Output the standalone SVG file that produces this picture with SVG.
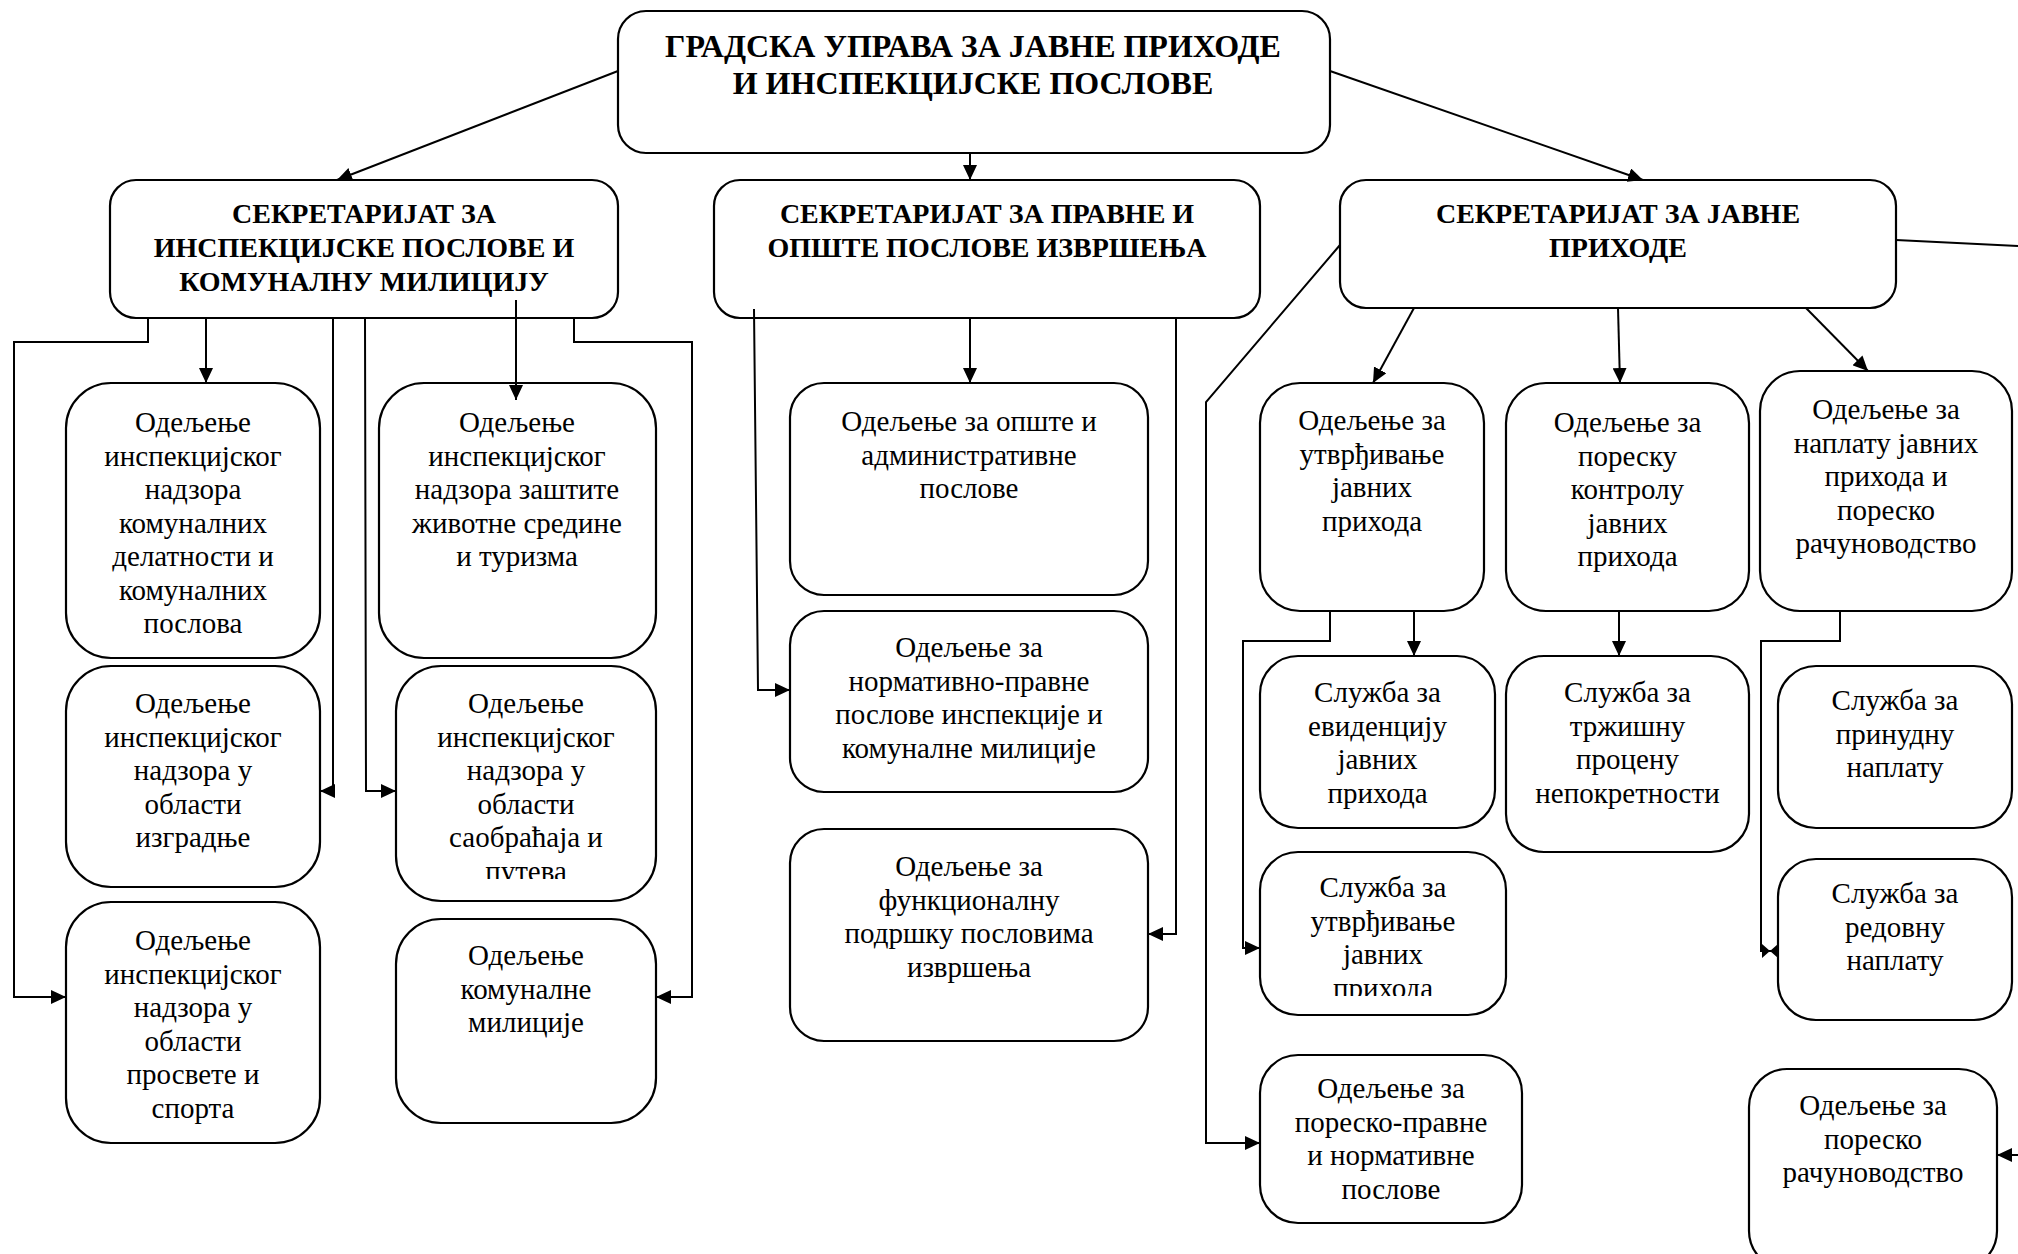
<svg xmlns="http://www.w3.org/2000/svg" width="2018" height="1254" viewBox="0 0 2018 1254">
<style>
.box{fill:#fff;stroke:#000;stroke-width:2.2}
.c{fill:none;stroke:#000;stroke-width:2}
.h{font-family:"Liberation Serif","Times New Roman",serif;font-weight:bold;text-anchor:middle;fill:#000}
.t{font-family:"Liberation Serif","Times New Roman",serif;font-size:29px;text-anchor:middle;fill:#000}
</style>
<defs>
<marker id="ah" viewBox="0 0 15 14" refX="15" refY="7" markerWidth="15" markerHeight="14" markerUnits="userSpaceOnUse" orient="auto">
<path d="M0,0 L15,7 L0,14 z" fill="#000"/>
</marker>
<clipPath id="clipPut"><rect x="396" y="660" width="262" height="219"/></clipPath>
<clipPath id="clipPrih"><rect x="1260" y="850" width="248" height="146"/></clipPath>
</defs>
<rect width="2018" height="1254" fill="#fff"/>

<g id="n-title">
<rect class="box" x="618" y="11" width="712" height="142" rx="28"/>
<text class="h" font-size="32" x="973" y="57">ГРАДСКА УПРАВА ЗА ЈАВНЕ ПРИХОДЕ</text>
<text class="h" font-size="32" x="973" y="94">И ИНСПЕКЦИЈСКЕ ПОСЛОВЕ</text>
</g>

<g id="n-sec-insp">
<rect class="box" x="110" y="180" width="508" height="138" rx="26"/>
<text class="h" font-size="28" x="364" y="223">СЕКРЕТАРИЈАТ ЗА</text>
<text class="h" font-size="28" x="364" y="257">ИНСПЕКЦИЈСКЕ ПОСЛОВЕ И</text>
<text class="h" font-size="28" x="364" y="291">КОМУНАЛНУ МИЛИЦИЈУ</text>
</g>

<g id="n-sec-prav">
<rect class="box" x="714" y="180" width="546" height="138" rx="26"/>
<text class="h" font-size="28" x="987" y="223">СЕКРЕТАРИЈАТ ЗА ПРАВНЕ И</text>
<text class="h" font-size="28" x="987" y="257">ОПШТЕ ПОСЛОВЕ ИЗВРШЕЊА</text>
</g>

<g id="n-sec-prih">
<rect class="box" x="1340" y="180" width="556" height="128" rx="26"/>
<text class="h" font-size="28" x="1618" y="223">СЕКРЕТАРИЈАТ ЗА ЈАВНЕ</text>
<text class="h" font-size="28" x="1618" y="257">ПРИХОДЕ</text>
</g>

<g id="n-kom-del">
<rect class="box" x="66" y="383" width="254" height="275" rx="45"/>
<text class="t" x="193" y="432">Одељење</text>
<text class="t" x="193" y="465.5">инспекцијског</text>
<text class="t" x="193" y="499">надзора</text>
<text class="t" x="193" y="532.5">комуналних</text>
<text class="t" x="193" y="566">делатности и</text>
<text class="t" x="193" y="599.5">комуналних</text>
<text class="t" x="193" y="633">послова</text>
</g>

<g id="n-izgradnja">
<rect class="box" x="66" y="666" width="254" height="221" rx="45"/>
<text class="t" x="193" y="713">Одељење</text>
<text class="t" x="193" y="746.5">инспекцијског</text>
<text class="t" x="193" y="780">надзора у</text>
<text class="t" x="193" y="813.5">области</text>
<text class="t" x="193" y="847">изградње</text>
</g>

<g id="n-prosveta">
<rect class="box" x="66" y="902" width="254" height="241" rx="45"/>
<text class="t" x="193" y="950">Одељење</text>
<text class="t" x="193" y="983.5">инспекцијског</text>
<text class="t" x="193" y="1017">надзора у</text>
<text class="t" x="193" y="1050.5">области</text>
<text class="t" x="193" y="1084">просвете и</text>
<text class="t" x="193" y="1117.5">спорта</text>
</g>

<g id="n-zivotna">
<rect class="box" x="379" y="383" width="277" height="275" rx="45"/>
<text class="t" x="517" y="432">Одељење</text>
<text class="t" x="517" y="465.5">инспекцијског</text>
<text class="t" x="517" y="499">надзора заштите</text>
<text class="t" x="517" y="532.5">животне средине</text>
<text class="t" x="517" y="566">и туризма</text>
</g>

<g id="n-saobracaj">
<rect class="box" x="396" y="666" width="260" height="235" rx="45"/>
<text class="t" x="526" y="713">Одељење</text>
<text class="t" x="526" y="746.5">инспекцијског</text>
<text class="t" x="526" y="780">надзора у</text>
<text class="t" x="526" y="813.5">области</text>
<text class="t" x="526" y="847">саобраћаја и</text>
<text class="t" x="526" y="880.5" clip-path="url(#clipPut)">путева</text>
</g>

<g id="n-milicija">
<rect class="box" x="396" y="919" width="260" height="204" rx="45"/>
<text class="t" x="526" y="965">Одељење</text>
<text class="t" x="526" y="998.5">комуналне</text>
<text class="t" x="526" y="1032">милиције</text>
</g>

<g id="n-opste">
<rect class="box" x="790" y="383" width="358" height="212" rx="34"/>
<text class="t" x="969" y="431">Одељење за опште и</text>
<text class="t" x="969" y="464.5">административне</text>
<text class="t" x="969" y="498">послове</text>
</g>

<g id="n-normativno">
<rect class="box" x="790" y="611" width="358" height="181" rx="34"/>
<text class="t" x="969" y="657">Одељење за</text>
<text class="t" x="969" y="690.5">нормативно-правне</text>
<text class="t" x="969" y="724">послове инспекције и</text>
<text class="t" x="969" y="757.5">комуналне милиције</text>
</g>

<g id="n-funkcionalna">
<rect class="box" x="790" y="829" width="358" height="212" rx="34"/>
<text class="t" x="969" y="876">Одељење за</text>
<text class="t" x="969" y="909.5">функционалну</text>
<text class="t" x="969" y="943">подршку пословима</text>
<text class="t" x="969" y="976.5">извршења</text>
</g>

<g id="n-utvrdjivanje">
<rect class="box" x="1260" y="383" width="224" height="228" rx="40"/>
<text class="t" x="1372" y="430">Одељење за</text>
<text class="t" x="1372" y="463.5">утврђивање</text>
<text class="t" x="1372" y="497">јавних</text>
<text class="t" x="1372" y="530.5">прихода</text>
</g>

<g id="n-kontrola">
<rect class="box" x="1506" y="383" width="243" height="228" rx="40"/>
<text class="t" x="1627.5" y="432">Одељење за</text>
<text class="t" x="1627.5" y="465.5">пореску</text>
<text class="t" x="1627.5" y="499">контролу</text>
<text class="t" x="1627.5" y="532.5">јавних</text>
<text class="t" x="1627.5" y="566">прихода</text>
</g>

<g id="n-naplata">
<rect class="box" x="1760" y="371" width="252" height="240" rx="40"/>
<text class="t" x="1886" y="419">Одељење за</text>
<text class="t" x="1886" y="452.5">наплату јавних</text>
<text class="t" x="1886" y="486">прихода и</text>
<text class="t" x="1886" y="519.5">пореско</text>
<text class="t" x="1886" y="553">рачуноводство</text>
</g>

<g id="n-evidencija">
<rect class="box" x="1260" y="656" width="235" height="172" rx="38"/>
<text class="t" x="1377.5" y="702">Служба за</text>
<text class="t" x="1377.5" y="735.5">евиденцију</text>
<text class="t" x="1377.5" y="769">јавних</text>
<text class="t" x="1377.5" y="802.5">прихода</text>
</g>

<g id="n-trzisna">
<rect class="box" x="1506" y="656" width="243" height="196" rx="38"/>
<text class="t" x="1627.5" y="702">Служба за</text>
<text class="t" x="1627.5" y="735.5">тржишну</text>
<text class="t" x="1627.5" y="769">процену</text>
<text class="t" x="1627.5" y="802.5">непокретности</text>
</g>

<g id="n-prinudna">
<rect class="box" x="1778" y="666" width="234" height="162" rx="38"/>
<text class="t" x="1895" y="710">Служба за</text>
<text class="t" x="1895" y="743.5">принудну</text>
<text class="t" x="1895" y="777">наплату</text>
</g>

<g id="n-sl-utvrdjivanje">
<rect class="box" x="1260" y="852" width="246" height="163" rx="38"/>
<text class="t" x="1383" y="897">Служба за</text>
<text class="t" x="1383" y="930.5">утврђивање</text>
<text class="t" x="1383" y="964">јавних</text>
<text class="t" x="1383" y="997.5" clip-path="url(#clipPrih)">прихода</text>
</g>

<g id="n-redovna">
<rect class="box" x="1778" y="859" width="234" height="161" rx="38"/>
<text class="t" x="1895" y="903">Служба за</text>
<text class="t" x="1895" y="936.5">редовну</text>
<text class="t" x="1895" y="970">наплату</text>
</g>

<g id="n-poresko-pravne">
<rect class="box" x="1260" y="1055" width="262" height="168" rx="38"/>
<text class="t" x="1391" y="1098">Одељење за</text>
<text class="t" x="1391" y="1131.5">пореско-правне</text>
<text class="t" x="1391" y="1165">и нормативне</text>
<text class="t" x="1391" y="1198.5">послове</text>
</g>

<g id="n-racunovodstvo">
<rect class="box" x="1749" y="1069" width="248" height="200" rx="38"/>
<text class="t" x="1873" y="1115">Одељење за</text>
<text class="t" x="1873" y="1148.5">пореско</text>
<text class="t" x="1873" y="1182">рачуноводство</text>
</g>

<g id="connectors">
<line class="c" x1="618" y1="71" x2="337" y2="180" marker-end="url(#ah)"/>
<line class="c" x1="970" y1="153" x2="970" y2="180" marker-end="url(#ah)"/>
<line class="c" x1="1330" y1="71" x2="1643" y2="180" marker-end="url(#ah)"/>
<line class="c" x1="206" y1="318" x2="206" y2="383" marker-end="url(#ah)"/>
<line class="c" x1="516" y1="300" x2="516" y2="400" marker-end="url(#ah)"/>
<polyline class="c" points="148,318 148,342 14,342 14,997 66,997" marker-end="url(#ah)"/>
<polyline class="c" points="333,318 333,791 320,791" marker-end="url(#ah)"/>
<polyline class="c" points="365,318 366,791 396,791" marker-end="url(#ah)"/>
<polyline class="c" points="574,318 574,342 692,342 692,997 656,997" marker-end="url(#ah)"/>
<line class="c" x1="970" y1="318" x2="970" y2="383" marker-end="url(#ah)"/>
<polyline class="c" points="754,309 758,690 790,690" marker-end="url(#ah)"/>
<polyline class="c" points="1176,318 1176,934 1148,934" marker-end="url(#ah)"/>
<line class="c" x1="1414" y1="308" x2="1373" y2="383" marker-end="url(#ah)"/>
<line class="c" x1="1618" y1="308" x2="1620" y2="383" marker-end="url(#ah)"/>
<line class="c" x1="1806" y1="308" x2="1868" y2="371" marker-end="url(#ah)"/>
<polyline class="c" points="1340,245 1206,402 1206,1143 1260,1143" marker-end="url(#ah)"/>
<line class="c" x1="1414" y1="611" x2="1414" y2="656" marker-end="url(#ah)"/>
<polyline class="c" points="1330,611 1330,641 1243,641 1243,948 1260,948" marker-end="url(#ah)"/>
<line class="c" x1="1619" y1="611" x2="1619" y2="656" marker-end="url(#ah)"/>
<polyline class="c" points="1840,611 1840,641 1761,641 1761,951 1778,951"/>
<path d="M1762,944 L1770,951 L1762,958 z M1778,944 L1770,951 L1778,958 z" fill="#000"/>
<line class="c" x1="1896" y1="240" x2="2018" y2="246"/>
<line class="c" x1="2018" y1="1155" x2="1997" y2="1155" marker-end="url(#ah)"/>
</g>
</svg>
